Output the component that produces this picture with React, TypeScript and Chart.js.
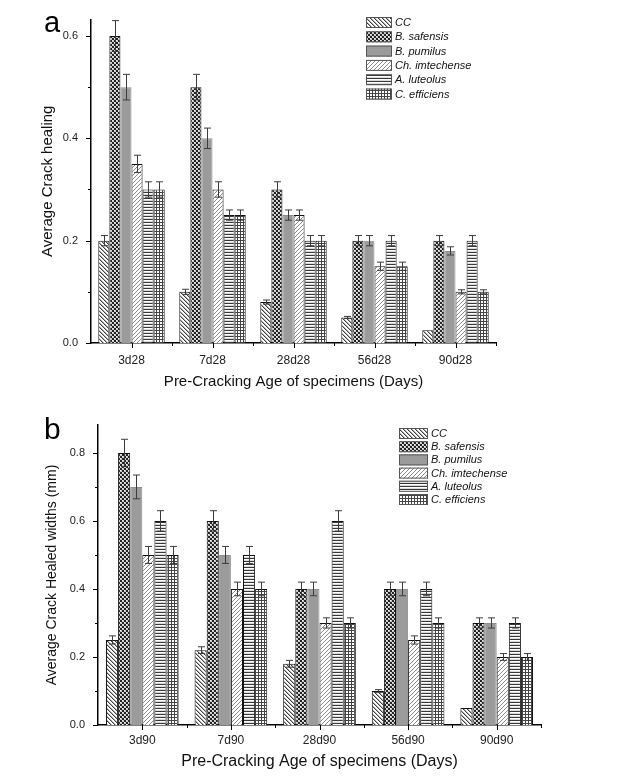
import React, { useEffect, useRef } from "react";
import { Chart, registerables } from "chart.js";
Chart.register(...registerables);

const FONT = "'Liberation Sans', Arial, sans-serif";

const SERIES = ["CC", "B. safensis", "B. pumilus", "Ch. imtechense", "A. luteolus", "C. efficiens"];
const CATEGORIES_A = ["3d28", "7d28", "28d28", "56d28", "90d28"];
const CATEGORIES_B = ["3d90", "7d90", "28d90", "56d90", "90d90"];

// Panel a: Average Crack healing
const A_CC = [0.2, 0.1, 0.08, 0.05, 0.025];
const A_SAF = [0.6, 0.5, 0.3, 0.2, 0.2];
const A_PUM = [0.5, 0.4, 0.25, 0.2, 0.18];
const A_CH = [0.35, 0.3, 0.25, 0.15, 0.1];
const A_LUT = [0.3, 0.25, 0.2, 0.2, 0.2];
const A_EFF = [0.3, 0.25, 0.2, 0.15, 0.1];
const A_CC_ERR = [0.01, 0.005, 0.004, 0.002, 0];
const A_SAF_ERR = [0.03, 0.025, 0.015, 0.01, 0.01];
const A_PUM_ERR = [0.025, 0.02, 0.01, 0.01, 0.008];
const A_CH_ERR = [0.017, 0.015, 0.01, 0.008, 0.004];
const A_LUT_ERR = [0.015, 0.01, 0.01, 0.01, 0.01];
const A_EFF_ERR = [0.015, 0.01, 0.01, 0.008, 0.004];

// Panel b: Average Crack Healed widths (mm)
const B_CC = [0.25, 0.22, 0.18, 0.1, 0.05];
const B_SAF = [0.8, 0.6, 0.4, 0.4, 0.3];
const B_PUM = [0.7, 0.5, 0.4, 0.4, 0.3];
const B_CH = [0.5, 0.4, 0.3, 0.25, 0.2];
const B_LUT = [0.6, 0.5, 0.6, 0.4, 0.3];
const B_EFF = [0.5, 0.4, 0.3, 0.3, 0.2];
const B_CC_ERR = [0.012, 0.01, 0.01, 0.004, 0];
const B_SAF_ERR = [0.04, 0.03, 0.02, 0.02, 0.015];
const B_PUM_ERR = [0.035, 0.025, 0.02, 0.02, 0.015];
const B_CH_ERR = [0.025, 0.02, 0.015, 0.012, 0.01];
const B_LUT_ERR = [0.03, 0.025, 0.03, 0.02, 0.015];
const B_EFF_ERR = [0.025, 0.02, 0.015, 0.015, 0.01];

const Y_TICKS_A = [0, 0.2, 0.4, 0.6];
const Y_TICKS_B = [0, 0.2, 0.4, 0.6, 0.8];

type PatternKind = "back" | "dark" | "gray" | "fwd" | "horiz" | "grid";
const KINDS: PatternKind[] = ["back", "dark", "gray", "fwd", "horiz", "grid"];

function makePattern(kind: PatternKind): CanvasPattern | string {
  if (kind === "gray") return "#9b9b9b";
  const size = kind === "horiz" || kind === "grid" ? 3 : 4;
  const c = document.createElement("canvas");
  c.width = size;
  c.height = size;
  const g = c.getContext("2d")!;
  g.fillStyle = "#ffffff";
  g.fillRect(0, 0, size, size);
  if (kind === "back") {
    g.fillStyle = "#404040";
    for (let i = 0; i < size; i++) g.fillRect(i, i, 1, 1);
    g.fillStyle = "#b0b0b0";
    for (let i = 0; i < size; i++) g.fillRect((i + 1) % size, i, 1, 1);
  } else if (kind === "fwd") {
    g.fillStyle = "#8a8a8a";
    for (let i = 0; i < size; i++) g.fillRect(size - 1 - i, i, 1, 1);
  } else if (kind === "dark") {
    g.fillStyle = "#242424";
    g.fillRect(0, 0, size, size);
    g.fillStyle = "#c8c8c8";
    g.fillRect(0, 0, 2, 2);
    g.fillRect(2, 2, 2, 2);
    g.fillStyle = "#f0f0f0";
    g.fillRect(0, 0, 1, 1);
    g.fillRect(2, 2, 1, 1);
  } else if (kind === "horiz") {
    g.fillStyle = "#383838";
    g.fillRect(0, 0, size, 1);
    g.fillStyle = "#dadada";
    g.fillRect(0, 2, size, 1);
  } else if (kind === "grid") {
    g.fillStyle = "#444444";
    g.fillRect(0, 0, size, 1);
    g.fillRect(0, 0, 1, size);
  }
  return g.createPattern(c, "repeat")!;
}

interface PanelCfg {
  top: number;
  height: number;
  categories: string[];
  values: number[][];
  errors: number[][];
  yMax: number;
  yTicks: number[];
  yTitle: string;
  yTitleSize: number;
  yTitlePad: number;
  xTitleSize: number;
  xTitlePad: number;
  xTickSize: number;
  xTickPad: number;
  yTickSize: number;
  yTickPad: number;
  padTop: number;
  padRight: number;
  yWidth: number;
  xHeight: number;
  legend: { x: number; y: number; boxW: number; boxH: number; row: number; size: number };
}

function BarPanel({ cfg }: { cfg: PanelCfg }) {
  const ref = useRef<HTMLCanvasElement>(null);
  useEffect(() => {
    const errorBars = {
      id: "errorBars",
      afterDatasetsDraw(chart: any) {
        const ctx = chart.ctx;
        const ys = chart.scales.y;
        ctx.save();
        ctx.strokeStyle = "#3c3c3c";
        ctx.lineWidth = 1;
        chart.data.datasets.forEach((ds: any, i: number) => {
          const meta = chart.getDatasetMeta(i);
          meta.data.forEach((bar: any, j: number) => {
            const v = ds.data[j];
            const e = cfg.errors[i][j];
            if (!e) return;
            const x = Math.round(bar.x) + 0.5;
            const yt = ys.getPixelForValue(v + e);
            const yb = ys.getPixelForValue(v - e);
            const hw = 3.5;
            ctx.beginPath();
            ctx.moveTo(x, yt);
            ctx.lineTo(x, yb);
            ctx.moveTo(x - hw, yt);
            ctx.lineTo(x + hw, yt);
            ctx.moveTo(x - hw, yb);
            ctx.lineTo(x + hw, yb);
            ctx.stroke();
          });
        });
        ctx.restore();
      },
    };
    const axisTicks = {
      id: "axisTicks",
      afterDraw(chart: any) {
        const ctx = chart.ctx;
        const ys = chart.scales.y;
        const xs = chart.scales.x;
        const { left, bottom, right } = chart.chartArea;
        ctx.save();
        ctx.strokeStyle = "#000";
        ctx.lineWidth = 1;
        const hline = (x1: number, x2: number, y: number) => {
          ctx.beginPath();
          ctx.moveTo(x1, Math.round(y) + 0.5);
          ctx.lineTo(x2, Math.round(y) + 0.5);
          ctx.stroke();
        };
        const vline = (x: number, y1: number, y2: number) => {
          ctx.beginPath();
          ctx.moveTo(Math.round(x) + 0.5, y1);
          ctx.lineTo(Math.round(x) + 0.5, y2);
          ctx.stroke();
        };
        const tv = cfg.yTicks;
        tv.forEach((t, i) => {
          hline(left - 5, left, ys.getPixelForValue(t));
          const step = i < tv.length - 1 ? tv[i + 1] - t : tv[1] - tv[0];
          const mid = t + step / 2;
          if (mid < cfg.yMax) hline(left - 3, left, ys.getPixelForValue(mid));
        });
        const n = cfg.categories.length;
        for (let i = 0; i < n; i++) {
          const px = xs.getPixelForTick(i);
          vline(px, bottom, bottom + 5);
          const bx = i < n - 1 ? (px + xs.getPixelForTick(i + 1)) / 2 : right;
          vline(bx, bottom, bottom + 3);
        }
        ctx.restore();
      },
    };
    const legend = {
      id: "panelLegend",
      afterDraw(chart: any) {
        const ctx = chart.ctx;
        const L = cfg.legend;
        ctx.save();
        chart.data.datasets.forEach((ds: any, i: number) => {
          const y = L.y + i * L.row;
          ctx.fillStyle = ds.backgroundColor;
          ctx.fillRect(L.x, y, L.boxW, L.boxH);
          ctx.strokeStyle = "#555";
          ctx.lineWidth = 1;
          ctx.strokeRect(L.x + 0.5, y + 0.5, L.boxW - 1, L.boxH - 1);
          ctx.fillStyle = "#111";
          ctx.font = `italic ${L.size}px ${FONT}`;
          ctx.textBaseline = "middle";
          ctx.textAlign = "left";
          ctx.fillText(ds.label, L.x + L.boxW + 3, y + L.boxH / 2 + 0.5);
        });
        ctx.restore();
      },
    };
    const chart = new Chart(ref.current!, {
      type: "bar",
      data: {
        labels: cfg.categories,
        datasets: SERIES.map((name, i) => ({
          label: name,
          data: cfg.values[i],
          backgroundColor: makePattern(KINDS[i]) as any,
          borderColor: KINDS[i] === "gray" ? "#8f8f8f" : "#111111",
          borderWidth: 1,
          borderSkipped: "bottom",
          categoryPercentage: 0.82,
          barPercentage: 1.0,
        })),
      },
      options: {
        animation: false,
        responsive: false,
        maintainAspectRatio: false,
        layout: { padding: { left: 0, right: cfg.padRight, top: cfg.padTop, bottom: 0 } },
        plugins: {
          legend: { display: false },
          tooltip: { enabled: false },
        },
        scales: {
          x: {
            grid: { display: false, drawTicks: false },
            border: { display: true, color: "#000", width: 1.5 },
            ticks: { color: "#222", font: { family: FONT, size: cfg.xTickSize }, padding: cfg.xTickPad, maxRotation: 0 },
            title: {
              display: true,
              text: "Pre-Cracking Age of specimens (Days)",
              color: "#111",
              font: { family: FONT, size: cfg.xTitleSize },
              padding: { top: 0, bottom: cfg.xTitlePad },
            },
            afterFit: (s: any) => {
              s.height = cfg.xHeight;
            },
          },
          y: {
            min: 0,
            max: cfg.yMax,
            grid: { display: false, drawTicks: false },
            border: { display: true, color: "#000", width: 1.5 },
            afterBuildTicks: (s: any) => {
              s.ticks = cfg.yTicks.map((v) => ({ value: v }));
            },
            ticks: {
              color: "#222",
              font: { family: FONT, size: cfg.yTickSize },
              padding: cfg.yTickPad,
              callback: (v: any) => Number(v).toFixed(1),
            },
            title: {
              display: true,
              text: cfg.yTitle,
              color: "#111",
              font: { family: FONT, size: cfg.yTitleSize },
              padding: { top: cfg.yTitlePad, bottom: 0 },
            },
            afterFit: (s: any) => {
              s.width = cfg.yWidth;
            },
          },
        },
      },
      plugins: [errorBars, axisTicks, legend],
    } as any);
    return () => chart.destroy();
  }, []);
  return (
    <canvas
      ref={ref}
      width={618}
      height={cfg.height}
      style={{ position: "absolute", left: 0, top: cfg.top, width: 618, height: cfg.height }}
    />
  );
}

const PANEL_A: PanelCfg = {
  top: 0,
  height: 400,
  categories: CATEGORIES_A,
  values: [A_CC, A_SAF, A_PUM, A_CH, A_LUT, A_EFF],
  errors: [A_CC_ERR, A_SAF_ERR, A_PUM_ERR, A_CH_ERR, A_LUT_ERR, A_EFF_ERR],
  yMax: 0.632,
  yTicks: Y_TICKS_A,
  yTitle: "Average Crack healing",
  yTitleSize: 15,
  yTitlePad: 39,
  xTitleSize: 15,
  xTitlePad: 9,
  xTickSize: 12,
  xTickPad: 10,
  yTickSize: 11,
  yTickPad: 13,
  padTop: 14,
  padRight: 122,
  yWidth: 91,
  xHeight: 57,
  legend: { x: 366, y: 17, boxW: 26, boxH: 11, row: 14.3, size: 11 },
};

const PANEL_B: PanelCfg = {
  top: 390,
  height: 386,
  categories: CATEGORIES_B,
  values: [B_CC, B_SAF, B_PUM, B_CH, B_LUT, B_EFF],
  errors: [B_CC_ERR, B_SAF_ERR, B_PUM_ERR, B_CH_ERR, B_LUT_ERR, B_EFF_ERR],
  yMax: 0.882,
  yTicks: Y_TICKS_B,
  yTitle: "Average Crack Healed widths (mm)",
  yTitleSize: 14,
  yTitlePad: 44,
  xTitleSize: 16,
  xTitlePad: 5,
  xTickSize: 12,
  xTickPad: 8,
  yTickSize: 11,
  yTickPad: 13,
  padTop: 35,
  padRight: 77,
  yWidth: 98,
  xHeight: 51,
  legend: { x: 399, y: 38, boxW: 29, boxH: 11, row: 13.2, size: 11 },
};

export default function App() {
  return (
    <div style={{ position: "absolute", left: 0, top: 0, width: 618, height: 776, background: "#fff", overflow: "hidden" }}>
      <BarPanel cfg={PANEL_A} />
      <BarPanel cfg={PANEL_B} />
      <div style={{ position: "absolute", left: 44, top: 8, fontFamily: FONT, fontSize: 29, lineHeight: 1, color: "#000" }}>a</div>
      <div style={{ position: "absolute", left: 44, top: 414, fontFamily: FONT, fontSize: 30, lineHeight: 1, color: "#000" }}>b</div>
    </div>
  );
}
